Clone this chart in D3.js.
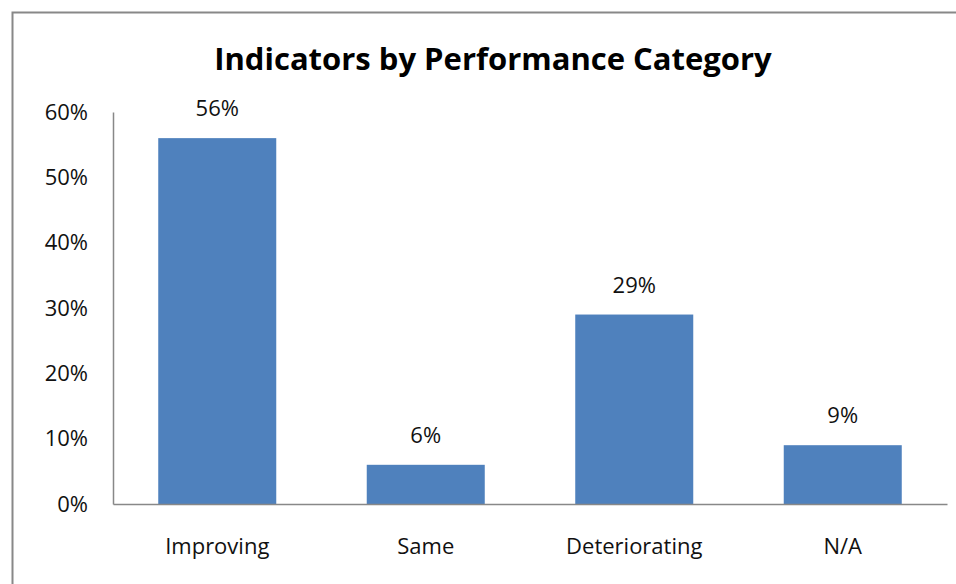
<!DOCTYPE html>
<html>
<head>
  <style>
    body {
      margin: 0;
      background: #fff;
    }

    .bar {
      fill: #4f81bd;
    }

    .axis text {
      font-family: "Open Sans", sans-serif;
      font-size: 22px;
      fill: #111;
    }

    .label {
      font-family: "Open Sans", sans-serif;
      font-size: 22px;
      fill: #111;
    }
  </style>
  <script src="https://cdn.jsdelivr.net/npm/d3@7"></script>
</head>

<body>
  <script>
    const categories = ["Improving", "Same", "Deteriorating", "N/A"];
    const values = [0.56, 0.06, 0.29, 0.09];
    const yTicks = [0, 0.1, 0.2, 0.3, 0.4, 0.5, 0.6];
    const title = "Indicators by Performance Category";

    const width = 956;
    const height = 584;
    const margin = { top: 112, right: 9, bottom: 80, left: 113 };

    const svg = d3.select('body')
      .append('svg')
      .attr('width', width)
      .attr('height', height);

    // chart frame, cut off on the right and bottom
    svg.append('rect')
      .attr('x', 12.5)
      .attr('y', 12.5)
      .attr('width', 960)
      .attr('height', 600)
      .style('fill', 'none')
      .style('stroke', '#888')
      .style('stroke-width', 2);

    svg.append('text')
      .attr('x', 493)
      .attr('y', 70)
      .attr('text-anchor', 'middle')
      .style('font-family', '"Open Sans", sans-serif')
      .style('font-weight', 'bold')
      .style('font-size', '31px')
      .text(title);

    const x = d3.scaleBand()
      .domain(categories)
      .range([margin.left, width - margin.right])
      .paddingInner(0.434)
      .paddingOuter(0.217);

    const y = d3.scaleLinear()
      .domain([0, 0.6])
      .range([height - margin.bottom, margin.top]);

    const yAxis = svg.append('g')
      .attr('class', 'axis')
      .attr('transform', `translate(${margin.left},0)`)
      .call(d3.axisLeft(y).tickValues(yTicks).tickFormat(d3.format('.0%')).tickSize(0).tickPadding(25));
    yAxis.select('.domain').style('stroke', '#888').style('stroke-width', 1.5);

    svg.selectAll('.bar')
      .data(values)
      .enter()
      .append('rect')
      .attr('class', 'bar')
      .attr('x', (d, i) => x(categories[i]))
      .attr('y', d => y(d))
      .attr('width', x.bandwidth())
      .attr('height', d => y(0) - y(d));

    const xAxis = svg.append('g')
      .attr('class', 'axis')
      .attr('transform', `translate(0,${height - margin.bottom})`)
      .call(d3.axisBottom(x).tickSize(0).tickPadding(34).tickSizeOuter(0));
    xAxis.select('.domain').style('stroke', '#888').style('stroke-width', 1.5);

    svg.selectAll('.label')
      .data(values)
      .enter()
      .append('text')
      .attr('class', 'label')
      .attr('x', (d, i) => x(categories[i]) + x.bandwidth() / 2)
      .attr('y', d => y(d) - 22)
      .attr('text-anchor', 'middle')
      .text(d => d3.format('.0%')(d));
  </script>
</body>
</html>
